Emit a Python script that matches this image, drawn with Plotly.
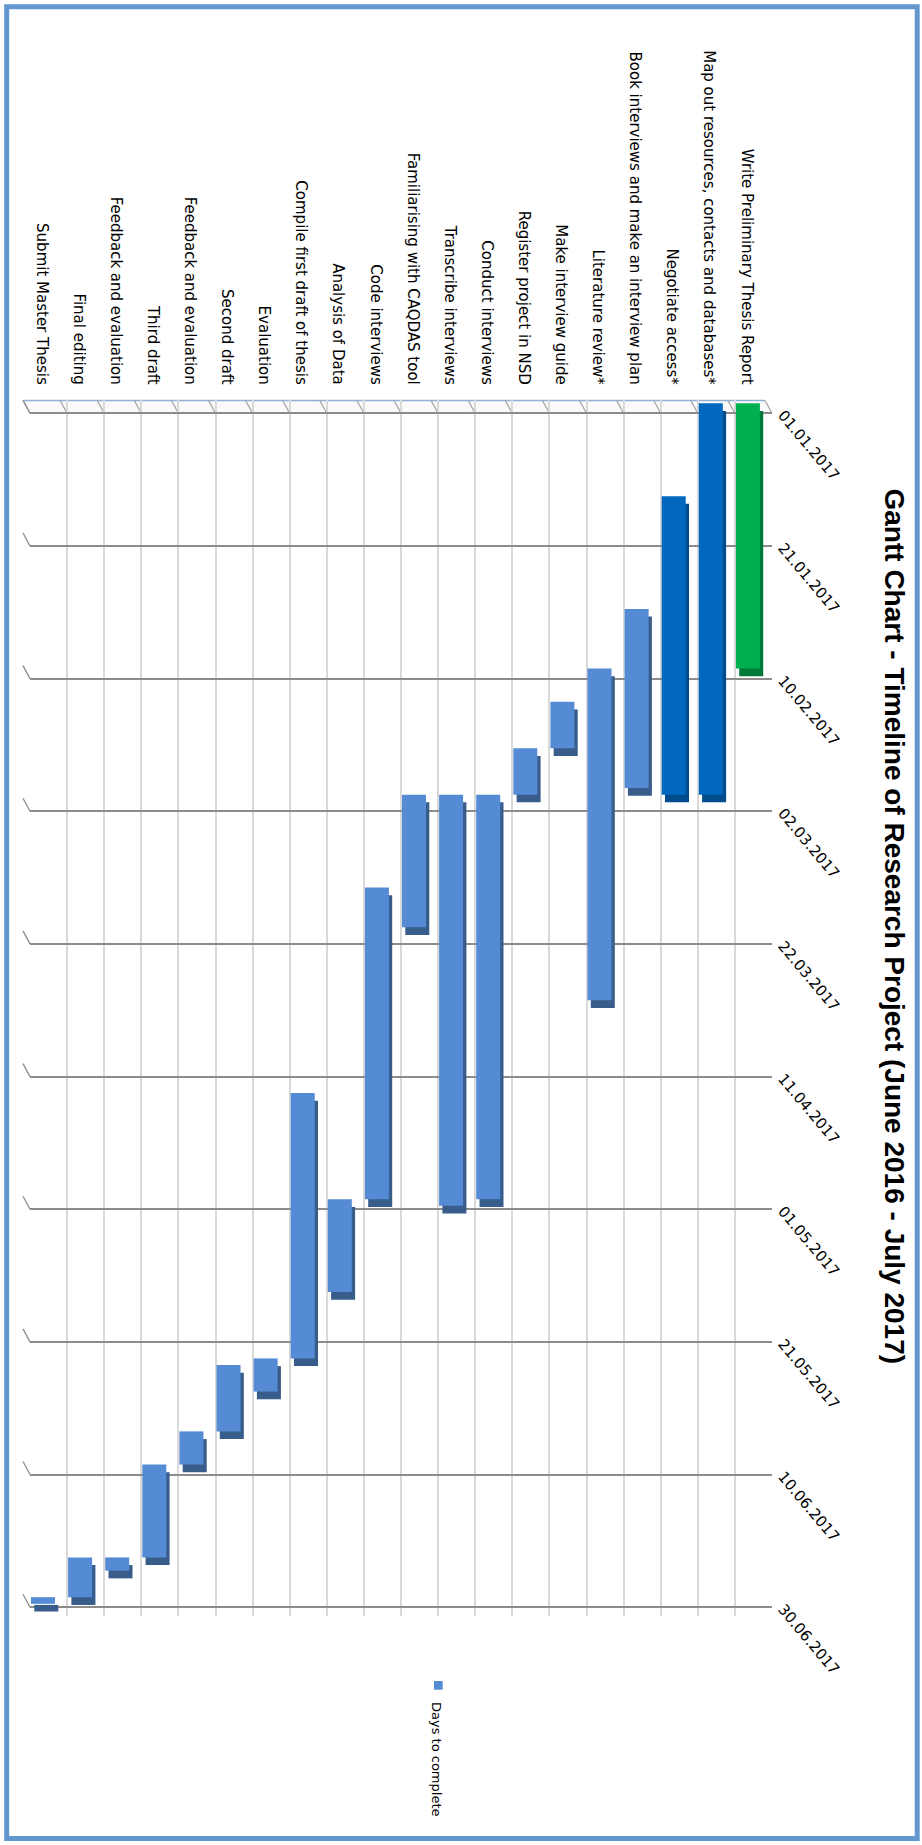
import pandas as pd
import plotly.graph_objects as go

# ---------------- data ----------------
tasks = [
    "Write Preliminary Thesis Report",
    "Map out resources, contacts and databases*",
    "Negotiate access*",
    "Book interviews and make an interview plan",
    "Literature review*",
    "Make interview guide",
    "Register project in NSD",
    "Conduct interviews",
    "Transcribe interviews",
    "Familiarising with CAQDAS tool",
    "Code interviews",
    "Analysis of Data",
    "Compile first draft of thesis",
    "Evaluation",
    "Second draft",
    "Feedback and evaluation",
    "Third draft",
    "Feedback and evaluation",
    "Final editing",
    "Submit Master Thesis",
]
start_dates = [
    "2017-01-01", "2017-01-01", "2017-01-15", "2017-02-01", "2017-02-10",
    "2017-02-15", "2017-02-22", "2017-03-01", "2017-03-01", "2017-03-01",
    "2017-03-15", "2017-05-01", "2017-04-15", "2017-05-25", "2017-05-26",
    "2017-06-05", "2017-06-10", "2017-06-24", "2017-06-24", "2017-06-30",
]
end_dates = [
    "2017-02-10", "2017-03-01", "2017-03-01", "2017-02-28", "2017-04-01",
    "2017-02-22", "2017-03-01", "2017-05-01", "2017-05-02", "2017-03-21",
    "2017-05-01", "2017-05-15", "2017-05-25", "2017-05-30", "2017-06-05",
    "2017-06-10", "2017-06-24", "2017-06-26", "2017-06-30", "2017-07-01",
]
series_name = "Days to complete"
title_text = "Gantt Chart - Timeline of Research Project (June 2016 - July 2017)"
axis_start = "2017-01-01"
axis_end = "2017-06-30"
tick_step_days = 20

# ---------------- styles ----------------
W, H = 922, 1845
L, R, T, B = 30, 150, 400, 229
PW, PH = W - L - R, H - T - B
GREEN, GREEN_S = "#00AF4F", "#007A38"
DARK, DARK_S = "#0068BE", "#004C8C"
LIGHT, LIGHT_S = "#558BD5", "#385D8A"
front_cols = [GREEN] + [DARK] * 2 + [LIGHT] * (len(tasks) - 3)
side_cols = [GREEN_S] + [DARK_S] * 2 + [LIGHT_S] * (len(tasks) - 3)

DAY_MS = 86400000
n = len(tasks)
starts = pd.to_datetime(start_dates)
ends = pd.to_datetime(end_dates)
dur_ms = [(e - s).total_seconds() * 1000 for s, e in zip(starts, ends)]
xs = list(range(n))

d0 = pd.Timestamp(axis_start)
d1 = pd.Timestamp(axis_end)
span_days = (d1 - d0).days
top_px, grid0_px, grid1_px = T, 413.3, 1607.2
ppd = (grid1_px - grid0_px) / span_days
y_top = d0 - pd.Timedelta(days=(grid0_px - top_px) / ppd)
y_bot = d0 + pd.Timedelta(days=(T + PH - grid0_px) / ppd)
shift = pd.Timedelta(days=10 / ppd)        # 3D front-face offset
depth = pd.Timedelta(days=7.7 / ppd)       # 3D depth (downward)
fmt = "%Y-%m-%d %H:%M:%S.%f"

BAR_OFF, BAR_W = -0.174, 0.647
SIDE_DX = 3.3 / (PW / n)

fig = go.Figure()
fig.add_trace(go.Bar(
    x=xs, y=dur_ms, base=[(s + depth).strftime(fmt) for s in starts],
    offset=BAR_OFF - SIDE_DX, width=BAR_W,
    marker=dict(color=side_cols, line=dict(width=0)),
    yaxis="y2", showlegend=False, hoverinfo="skip",
))
fig.add_trace(go.Bar(
    x=xs, y=dur_ms, base=[s.strftime(fmt) for s in starts],
    offset=BAR_OFF, width=BAR_W, name=series_name,
    marker=dict(color=front_cols, line=dict(width=0)),
    yaxis="y2", showlegend=False,
))


def px_x(p):
    return (p - L) / PW


def px_y(p):
    return 1 - (p - T) / PH


shapes = []
# floor band (3D top)
shapes.append(dict(type="path", xref="paper", yref="paper", layer="between",
                   path=f"M {px_x(23)} {px_y(400.5)} L {px_x(765)} {px_y(400.5)} "
                        f"L {px_x(772)} {px_y(413.3)} L {px_x(30)} {px_y(413.3)} Z",
                   fillcolor="#FAFAFA", line=dict(width=0)))
shapes.append(dict(type="line", xref="paper", yref="paper", layer="between",
                   x0=px_x(23), x1=px_x(765), y0=px_y(400.5), y1=px_y(400.5),
                   line=dict(color="#8FB0D8", width=1.5)))
for j in range(n + 1):
    xb = L + j * PW / n
    shapes.append(dict(type="line", xref="paper", yref="paper", layer="between",
                       x0=px_x(xb - 7), x1=px_x(xb), y0=px_y(400.5), y1=px_y(413.3),
                       line=dict(color="#A6A6A6", width=1.3)))
# left diagonal ticks of the date gridlines
k = 0
while d0 + pd.Timedelta(days=k * tick_step_days) <= d1:
    dt = d0 + pd.Timedelta(days=k * tick_step_days)
    shapes.append(dict(type="line", xref="paper", yref="y", layer="between",
                       xsizemode="pixel", xanchor=0, x0=-7, x1=0,
                       ysizemode="pixel", yanchor=dt.strftime(fmt), y0=13, y1=0,
                       line=dict(color="#8C8C8C", width=1.3)))
    k += 1
# outer frame
shapes.append(dict(type="rect", xref="paper", yref="paper",
                   x0=px_x(6.7), x1=px_x(917.2), y0=px_y(6.7), y1=px_y(1838.5),
                   line=dict(color="#6397CD", width=5), fillcolor="rgba(0,0,0,0)"))
# legend marker
shapes.append(dict(type="rect", xref="paper", yref="paper",
                   x0=px_x(434), x1=px_x(442.7), y0=px_y(1681), y1=px_y(1689.7),
                   line=dict(width=0), fillcolor=LIGHT))

annotations = [
    dict(text=f"<b>{title_text}</b>",
         xref="paper", yref="paper", x=px_x(894), y=px_y(926.5),
         xanchor="center", yanchor="middle", textangle=90, showarrow=False,
         font=dict(family="Liberation Sans, Arial, sans-serif",
                   size=28, color="black")),
    dict(text=series_name, xref="paper", yref="paper", x=px_x(437), y=px_y(1759),
         xanchor="center", yanchor="middle", textangle=90, showarrow=False,
         font=dict(family="DejaVu Sans", size=13, color="black")),
]

fig.update_layout(
    width=W, height=H,
    margin=dict(l=L, r=R, t=T, b=B, pad=0),
    paper_bgcolor="white", plot_bgcolor="white",
    barmode="overlay", showlegend=False,
    xaxis=dict(
        range=[n - 0.5, -0.5], side="top",
        tickmode="array", tickvals=[i + 0.19 for i in xs], ticktext=tasks,
        tickangle=90, tickfont=dict(family="DejaVu Sans", size=15, color="black"),
        showgrid=False, zeroline=False, ticks="", showline=False,
        ticklabelstandoff=12,
        minor=dict(tickmode="array", tickvals=[i + 0.5 for i in range(-1, n)],
                   showgrid=True, gridcolor="#D9D9D9", gridwidth=1.5, ticks=""),
    ),
    yaxis=dict(
        type="date", range=[y_bot.strftime(fmt), y_top.strftime(fmt)],
        side="right", tick0=axis_start, dtick=tick_step_days * DAY_MS,
        tickformat="%d.%m.%Y", tickangle=50,
        tickfont=dict(family="DejaVu Sans", size=15, color="black"),
        showgrid=True, gridcolor="#8C8C8C", gridwidth=1.5,
        zeroline=False, ticks="", showline=False, ticklabelstandoff=10,
    ),
    yaxis2=dict(
        type="date", overlaying="y",
        range=[(y_bot + shift).strftime(fmt), (y_top + shift).strftime(fmt)],
        visible=False, showgrid=False, zeroline=False,
    ),
    shapes=shapes, annotations=annotations,
)

fig.write_html("out.html")
